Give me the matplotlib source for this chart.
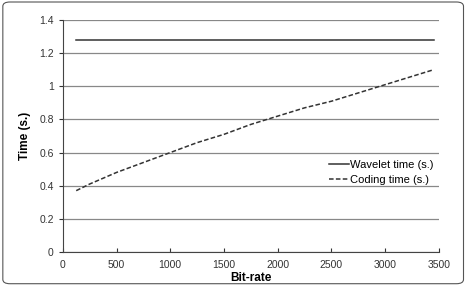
import matplotlib
matplotlib.use("Agg")
import matplotlib.pyplot as plt
from matplotlib.patches import FancyBboxPatch

plt.rcParams['font.family'] = ['Liberation Sans', 'DejaVu Sans']

# Data
bitrate = [125, 250, 500, 750, 1000, 1250, 1500, 1750, 2000, 2250, 2500, 2750, 3000, 3250, 3450]
coding_time = [0.37, 0.41, 0.48, 0.54, 0.60, 0.66, 0.71, 0.77, 0.82, 0.87, 0.91, 0.96, 1.01, 1.06, 1.10]
wavelet_time = [1.28] * len(bitrate)

fig = plt.figure(figsize=(4.72, 2.86), dpi=100)
ax = fig.add_axes([0.133, 0.119, 0.797, 0.811])

ax.plot(bitrate, wavelet_time, color='#333333', lw=1.1, label='Wavelet time (s.)')
ax.plot(bitrate, coding_time, color='#333333', lw=1.1, ls=(0, (3, 1.5)), label='Coding time (s.)')

ax.set_xlim(0, 3500)
ax.set_ylim(0, 1.4)
ax.set_xticks(range(0, 3501, 500))
ax.set_yticks([0, 0.2, 0.4, 0.6, 0.8, 1, 1.2, 1.4])
ax.set_yticklabels(['0', '0.2', '0.4', '0.6', '0.8', '1', '1.2', '1.4'])
ax.grid(axis='y', color='#888888', lw=0.9)
ax.set_axisbelow(True)
for s in ['top', 'right']:
    ax.spines[s].set_visible(False)
for s in ['left', 'bottom']:
    ax.spines[s].set_color('#444444')
ax.tick_params(axis='x', direction='in', length=3, labelsize=7.5, colors='#333333', pad=6)
ax.tick_params(axis='y', direction='out', length=3, labelsize=7.5, colors='#333333')
ax.set_xlabel('Bit-rate', fontsize=8.5, fontweight='bold', labelpad=1)
ax.set_ylabel('Time (s.)', fontsize=8.5, fontweight='bold', labelpad=6)

ax.legend(loc='center left', bbox_to_anchor=(0.68, 0.343), frameon=False, fontsize=8,
          handlelength=1.8, handletextpad=0.1, labelspacing=0.4)

fig.patches.append(FancyBboxPatch((0.006, 0.008), 0.976, 0.985, boxstyle='round,pad=0,rounding_size=0.015',
                                  transform=fig.transFigure, fill=False, ec='#555555', lw=0.8))

fig.savefig('out.png', dpi=100)
